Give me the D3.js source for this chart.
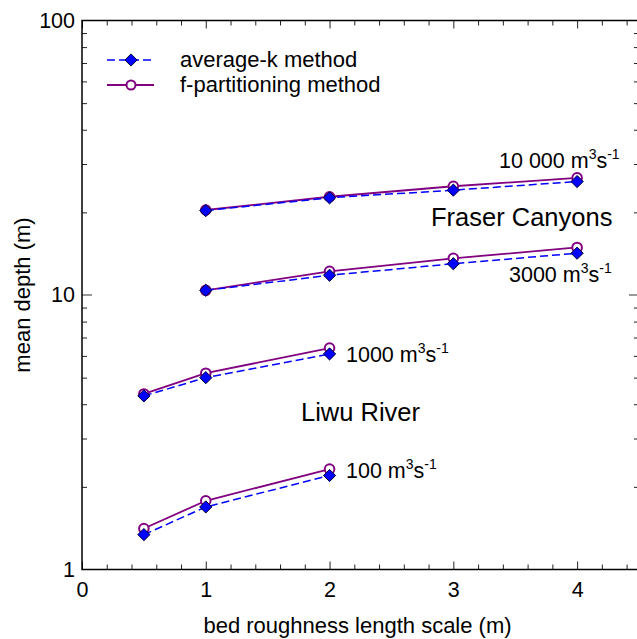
<!DOCTYPE html>
<html>
<head>
<meta charset="utf-8">
<script src="https://cdn.jsdelivr.net/npm/d3@7"></script>
<style>
  body { margin: 0; background: #fff; }
  svg { font-family: "Liberation Sans", Arial, sans-serif; }
  .axis path { display: none; }
  .axis text { font-size: 21.5px; fill: #000; }
</style>
</head>
<body>
<svg id="chart" width="637" height="639"></svg>
<script>
// bed roughness length scale (m)
const liwuK = [0.5, 1, 2]
const fraserK = [1, 2, 3, 4]

// mean depth (m)
const q100Avg = [1.34, 1.69, 2.20]
const q100F = [1.41, 1.78, 2.32]
const q1000Avg = [4.29, 5.00, 6.10]
const q1000F = [4.36, 5.19, 6.41]
const q3000Avg = [10.4, 11.8, 13.0, 14.2]
const q3000F = [10.4, 12.2, 13.6, 14.9]
const q10000Avg = [20.3, 22.6, 24.1, 25.9]
const q10000F = [20.4, 22.8, 24.9, 26.7]

const xTicks = [0, 1, 2, 3, 4]
const yTicks = [1, 10, 100]

const series = [
  { k: liwuK, avg: q100Avg, f: q100F },
  { k: liwuK, avg: q1000Avg, f: q1000F },
  { k: fraserK, avg: q3000Avg, f: q3000F },
  { k: fraserK, avg: q10000Avg, f: q10000F }
]

let svg = d3.select('#chart')
let pLeft = 82, pRight = 639, pTop = 20.5, pBottom = 569.5

let x = d3.scaleLinear().domain([0, 4.5]).range([pLeft, pRight])
let y = d3.scaleLog().domain([1, 100]).range([pBottom, pTop])

let minorX = d3.range(0, 4.51, 0.2).filter(v => Math.abs(v - Math.round(v)) > 0.01)
let minorY = []
;[1, 10].forEach(d => { for (let i = 2; i <= 9; i++) minorY.push(d * i) })

// minor ticks, all four sides, pointing inward
svg.append('g').attr('class', 'axis').attr('transform', `translate(0,${pBottom})`)
  .call(d3.axisBottom(x).tickValues(minorX).tickSize(-5).tickFormat(''))
svg.append('g').attr('class', 'axis').attr('transform', `translate(0,${pTop})`)
  .call(d3.axisTop(x).tickValues(minorX).tickSize(-5).tickFormat(''))
svg.append('g').attr('class', 'axis').attr('transform', `translate(${pLeft},0)`)
  .call(d3.axisLeft(y).tickValues(minorY).tickSize(-5).tickFormat(''))
svg.append('g').attr('class', 'axis').attr('transform', `translate(${pRight},0)`)
  .call(d3.axisRight(y).tickValues(minorY).tickSize(-5).tickFormat(''))

// major ticks with labels
svg.append('g').attr('class', 'axis').attr('transform', `translate(0,${pBottom})`)
  .call(d3.axisBottom(x).tickValues(xTicks).tickSize(-8).tickPadding(12).tickFormat(d3.format('d')))
svg.append('g').attr('class', 'axis').attr('transform', `translate(0,${pTop})`)
  .call(d3.axisTop(x).tickValues(xTicks).tickSize(-8).tickFormat(''))
svg.append('g').attr('class', 'axis').attr('transform', `translate(${pLeft},0)`)
  .call(d3.axisLeft(y).tickValues(yTicks).tickSize(0).tickPadding(7).tickFormat(d3.format('d')))

svg.selectAll('.axis line').attr('stroke', '#222')

// grey major tick at 10 on both sides
svg.append('line').attr('x1', pLeft).attr('x2', pLeft + 10).attr('y1', y(10)).attr('y2', y(10))
  .attr('stroke', '#999').attr('stroke-width', 2)
svg.append('line').attr('x1', pRight - 10).attr('x2', pRight).attr('y1', y(10)).attr('y2', y(10))
  .attr('stroke', '#999').attr('stroke-width', 2)

// frame
svg.append('rect').attr('x', pLeft).attr('y', pTop)
  .attr('width', pRight - pLeft).attr('height', pBottom - pTop)
  .attr('fill', 'none').attr('stroke', '#000').attr('stroke-width', 1.5)

// axis titles
svg.append('text').attr('x', (pLeft + pRight) / 2 - 3).attr('y', 633)
  .attr('text-anchor', 'middle').attr('font-size', 22).text('bed roughness length scale (m)')
svg.append('text').attr('transform', `translate(30,${(pTop + pBottom) / 2}) rotate(-90)`)
  .attr('text-anchor', 'middle').attr('font-size', 22).text('mean depth (m)')

let line = d3.line().x(d => x(d[0])).y(d => y(d[1]))
let diamond = d3.symbol().type(d3.symbolDiamond2).size(95)

function drawF(g, pts) {
  g.append('path').attr('d', line(pts)).attr('fill', 'none')
    .attr('stroke', '#800080').attr('stroke-width', 1.8)
  g.selectAll('circle.f').data(pts).enter().append('circle')
    .attr('cx', d => x(d[0])).attr('cy', d => y(d[1])).attr('r', 4.8)
    .attr('fill', '#fff').attr('stroke', '#800080').attr('stroke-width', 2)
}
function drawAvg(g, pts) {
  g.append('path').attr('d', line(pts)).attr('fill', 'none')
    .attr('stroke', '#0000ff').attr('stroke-width', 1.5).attr('stroke-dasharray', '8,4')
  g.selectAll('path.d').data(pts).enter().append('path')
    .attr('transform', d => `translate(${x(d[0])},${y(d[1])})`)
    .attr('d', diamond).attr('fill', '#0000ff').attr('stroke', '#000033').attr('stroke-width', 1)
}

let marks = svg.append('g')
series.forEach(s => {
  drawF(marks.append('g'), s.k.map((k, i) => [k, s.f[i]]))
})
series.forEach(s => {
  drawAvg(marks.append('g'), s.k.map((k, i) => [k, s.avg[i]]))
})

// legend
let lg = svg.append('g')
lg.append('line').attr('x1', 107).attr('x2', 154).attr('y1', 60).attr('y2', 60)
  .attr('stroke', '#0000ff').attr('stroke-width', 1.5).attr('stroke-dasharray', '8,4')
lg.append('path').attr('transform', 'translate(131,60)').attr('d', diamond)
  .attr('fill', '#0000ff').attr('stroke', '#000033')
lg.append('line').attr('x1', 107).attr('x2', 154).attr('y1', 85).attr('y2', 85)
  .attr('stroke', '#800080').attr('stroke-width', 1.8)
lg.append('circle').attr('cx', 131).attr('cy', 85).attr('r', 4.5)
  .attr('fill', '#fff').attr('stroke', '#800080').attr('stroke-width', 2)
lg.append('text').attr('x', 180).attr('y', 67).attr('font-size', 22).text('average-k method')
lg.append('text').attr('x', 180).attr('y', 92).attr('font-size', 22).text('f-partitioning method')

// annotations
function flowLabel(xp, yp, num) {
  let t = svg.append('text').attr('x', xp).attr('y', yp).attr('font-size', 21.5)
  t.append('tspan').text(num + ' m')
  t.append('tspan').attr('font-size', 14).attr('dy', -9).text('3')
  t.append('tspan').attr('dy', 9).text('s')
  t.append('tspan').attr('font-size', 14).attr('dy', -9).text('-1')
}
flowLabel(499, 168, '10 000')
flowLabel(509, 282, '3000')
flowLabel(346, 362, '1000')
flowLabel(346, 478, '100')

svg.append('text').attr('x', 431).attr('y', 226).attr('font-size', 25.5).text('Fraser Canyons')
svg.append('text').attr('x', 301).attr('y', 421).attr('font-size', 25.5).text('Liwu River')
</script>
</body>
</html>
